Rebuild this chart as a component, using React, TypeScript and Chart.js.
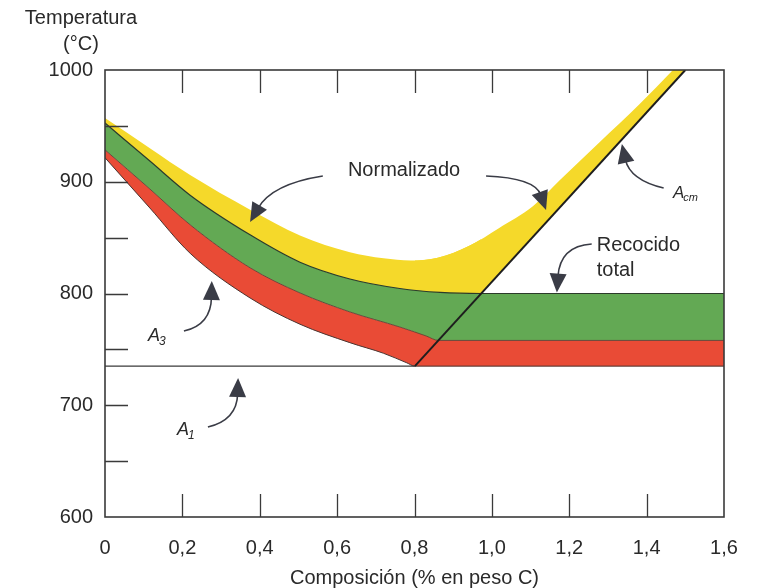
import React, { useEffect, useRef } from 'react';
import { Chart, registerables } from 'chart.js';

Chart.register(...registerables);

const FONT = '"Liberation Sans", Arial, Helvetica, sans-serif';
const TEXT = '#2a2a2a';
const INK = '#3a3c46';

// Composition (% C) and temperature (°C)
const yellowTopX = [0, 0.116, 0.22, 0.375, 0.504, 0.633, 0.72, 0.79, 0.86, 0.943, 1.018, 1.106, 1.176, 1.279, 1.382, 1.468, 1.55];
const yellowTopT = [957, 930, 906, 875, 852, 837, 831.5, 829.5, 832, 843, 858.5, 878, 901.5, 935.5, 969.5, 1000, 1031];

const greenTopX = [0, 0.116, 0.22, 0.375, 0.504, 0.633, 0.762, 0.866, 0.972, 1.6];
const greenTopT = [952.5, 918.5, 888, 852.5, 828, 813, 804.5, 801, 800, 800];

const redTopX = [0, 0.116, 0.22, 0.375, 0.504, 0.633, 0.762, 0.83, 0.862, 1.6];
const redTopT = [928.5, 893.5, 861.5, 823, 800.5, 783.5, 770, 762, 758, 758];

const a3X = [0, 0.116, 0.22, 0.375, 0.504, 0.633, 0.72, 0.78, 0.801, 1.6];
const a3T = [921.5, 876.5, 836, 796, 772.5, 756, 746.5, 738, 735, 735];

const a1X = [0, 0.801];
const a1T = [735, 735];

const acmX = [0.801, 1.5];
const acmT = [735, 1000];

const xTickStep = 0.2;
const yTickStep = 50;
const yLabelStep = 100;

const COLORS = {
  yellow: '#f5d92a',
  green: '#63a954',
  red: '#e94b36',
};

const pts = (xs: number[], ts: number[]) => xs.map((x, i) => ({ x, y: ts[i] }));

// annotation anchors, in data units (x: % C, y: °C)
const annotations = {
  normalizado: { x: 0.773, y: 910.5 },
  normArrowL: { s: [0.563, 905.1], c: [0.432, 898.0], t: [0.375, 864.0] },
  normArrowR: { s: [0.985, 905.1], c: [1.111, 903.4], t: [1.14, 874.7] },
  acmLabel: { x: 1.468, y: 889.9 },
  acmArrow: { s: [1.444, 894.4], c: [1.357, 901.6], t: [1.336, 933.8] },
  recocido: { x: 1.271, y1: 843.4, y2: 821.0 },
  recArrow: { s: [1.258, 844.3], c: [1.176, 842.5], t: [1.168, 800.8] },
  a3Label: { x: 0.111, y: 762.0 },
  a3Arrow: { s: [0.204, 766.4], c: [0.274, 771.8], t: [0.276, 811.2] },
  a1Label: { x: 0.186, y: 677.9 },
  a1Arrow: { s: [0.266, 680.5], c: [0.341, 686.8], t: [0.344, 724.4] },
};

const decor = {
  id: 'decor',
  afterDraw(chart: any) {
    const { ctx, chartArea: a } = chart;
    const xs = chart.scales.x;
    const ys = chart.scales.y;
    const X = (v: number) => xs.getPixelForValue(v);
    const Y = (v: number) => ys.getPixelForValue(v);
    const TICK = 23;
    ctx.save();

    // inward ticks
    ctx.strokeStyle = '#3a3a3a';
    ctx.lineWidth = 1.3;
    ctx.beginPath();
    ys.ticks.forEach((t: any) => {
      if (t.value > 600.5 && t.value < 999.5) {
        const py = Math.round(Y(t.value)) + 0.5;
        ctx.moveTo(a.left, py);
        ctx.lineTo(a.left + TICK, py);
      }
    });
    xs.ticks.forEach((t: any) => {
      if (t.value > 0.01 && t.value < 1.59) {
        const px = Math.round(X(t.value)) + 0.5;
        ctx.moveTo(px, a.bottom);
        ctx.lineTo(px, a.bottom - TICK);
        ctx.moveTo(px, a.top);
        ctx.lineTo(px, a.top + TICK);
      }
    });
    ctx.stroke();

    // frame
    ctx.lineWidth = 1.6;
    ctx.strokeRect(a.left, a.top, a.right - a.left, a.bottom - a.top);

    // axis heading
    ctx.fillStyle = TEXT;
    ctx.font = `20px ${FONT}`;
    ctx.textAlign = 'center';
    ctx.textBaseline = 'middle';
    ctx.fillText('Temperatura', 81, 18);
    ctx.fillText('(°C)', 81, 44);

    // arrows
    const arrow = (d: { s: number[]; c: number[]; t: number[] }) => {
      const s = [X(d.s[0]), Y(d.s[1])];
      const c = [X(d.c[0]), Y(d.c[1])];
      const t = [X(d.t[0]), Y(d.t[1])];
      const dx = t[0] - c[0];
      const dy = t[1] - c[1];
      const L = Math.hypot(dx, dy) || 1;
      const ux = dx / L;
      const uy = dy / L;
      const HL = 19;
      const HW = 8.5;
      const bx = t[0] - ux * HL;
      const by = t[1] - uy * HL;
      ctx.strokeStyle = INK;
      ctx.lineWidth = 1.6;
      ctx.beginPath();
      ctx.moveTo(s[0], s[1]);
      ctx.quadraticCurveTo(c[0], c[1], bx + ux * 3, by + uy * 3);
      ctx.stroke();
      ctx.fillStyle = INK;
      ctx.beginPath();
      ctx.moveTo(t[0], t[1]);
      ctx.lineTo(bx - uy * HW, by + ux * HW);
      ctx.lineTo(bx + uy * HW, by - ux * HW);
      ctx.closePath();
      ctx.fill();
    };
    arrow(annotations.normArrowL);
    arrow(annotations.normArrowR);
    arrow(annotations.acmArrow);
    arrow(annotations.recArrow);
    arrow(annotations.a3Arrow);
    arrow(annotations.a1Arrow);

    // texts
    ctx.fillStyle = TEXT;
    ctx.font = `20px ${FONT}`;
    ctx.textAlign = 'center';
    ctx.fillText('Normalizado', X(annotations.normalizado.x), Y(annotations.normalizado.y));
    ctx.textAlign = 'left';
    ctx.fillText('Recocido', X(annotations.recocido.x), Y(annotations.recocido.y1));
    ctx.fillText('total', X(annotations.recocido.x), Y(annotations.recocido.y2));

    const sub = (p: { x: number; y: number }, main: string, s: string, size: number) => {
      const px = X(p.x);
      const py = Y(p.y);
      ctx.textAlign = 'left';
      ctx.textBaseline = 'middle';
      ctx.font = `italic ${size}px ${FONT}`;
      ctx.fillText(main, px, py);
      const w = ctx.measureText(main).width;
      ctx.font = `italic ${Math.round(size * 0.66)}px ${FONT}`;
      ctx.fillText(s, px + w - 1, py + size * 0.3);
    };
    sub(annotations.acmLabel, 'A', 'cm', 17);
    sub(annotations.a3Label, 'A', '3', 18);
    sub(annotations.a1Label, 'A', '1', 18);

    ctx.restore();
  },
};

const stroke = (data: any[], color: string, width: number, curved: boolean) => ({
  data,
  borderColor: color,
  borderWidth: width,
  fill: false,
  pointRadius: 0,
  tension: 0,
  cubicInterpolationMode: curved ? 'monotone' : 'default',
});

const area = (data: any[], target: number | false, color: string) => ({
  data,
  borderColor: 'transparent',
  borderWidth: 0,
  backgroundColor: color,
  fill: target,
  pointRadius: 0,
  tension: 0,
  cubicInterpolationMode: 'monotone',
});

export default function App() {
  const ref = useRef<HTMLCanvasElement>(null);

  useEffect(() => {
    const yellowTop = pts(yellowTopX, yellowTopT);
    const greenTop = pts(greenTopX, greenTopT);
    const greenTopLeft = greenTop.slice(0, 9);
    const redTop = pts(redTopX, redTopT);
    const a3 = pts(a3X, a3T);
    const a1 = pts(a1X, a1T);
    const acm = pts(acmX, acmT);

    const datasets: any[] = [
      stroke(a1, '#3a3a3a', 1.4, false), // 0
      stroke(acm, '#1e1e1e', 2, false), // 1
      stroke(greenTop, '#2c3b2a', 1.2, true), // 2
      stroke(redTop, '#5e4236', 0.9, true), // 3
      stroke(a3, '#4a3430', 1, true), // 4
      area(redTop, 6, COLORS.red), // 5
      area(a3, false, 'transparent'), // 6
      area(greenTop, 5, COLORS.green), // 7
      area(greenTopLeft, 10, COLORS.yellow), // 8
      { ...area(acm, 10, COLORS.yellow), cubicInterpolationMode: 'default' }, // 9
      area(yellowTop, false, 'transparent'), // 10
    ];

    const tickFont = { family: FONT, size: 20 };
    const chart = new Chart(ref.current as HTMLCanvasElement, {
      type: 'line',
      data: { datasets },
      options: {
        animation: false,
        responsive: false,
        devicePixelRatio: 1,
        events: [],
        layout: { padding: { top: 70, right: 34, left: 0, bottom: 0 } },
        plugins: {
          legend: { display: false },
          tooltip: { enabled: false },
          title: { display: false },
        },
        scales: {
          x: {
            type: 'linear',
            min: 0,
            max: 1.6,
            grid: { display: false, drawTicks: false },
            border: { display: false },
            ticks: {
              stepSize: xTickStep,
              font: tickFont,
              color: TEXT,
              padding: 19,
              maxRotation: 0,
              autoSkip: false,
              callback: (v: any) => (Number(v) === 0 ? '0' : Number(v).toFixed(1).replace('.', ',')),
            },
            title: {
              display: true,
              text: 'Composición (% en peso C)',
              color: TEXT,
              font: { family: FONT, size: 20, lineHeight: 1 },
              padding: 0,
            },
            afterFit: (s: any) => {
              s.height = 71;
            },
          },
          y: {
            type: 'linear',
            min: 600,
            max: 1000,
            grid: { display: false, drawTicks: false },
            border: { display: false },
            ticks: {
              stepSize: yTickStep,
              font: tickFont,
              color: TEXT,
              padding: 12,
              autoSkip: false,
              callback: (v: any) => (Number(v) % yLabelStep === 0 ? String(v) : ''),
            },
            afterFit: (s: any) => {
              s.width = 105;
            },
          },
        },
      } as any,
      plugins: [decor],
    });
    return () => chart.destroy();
  }, []);

  return (
    <div style={{ position: 'fixed', left: 0, top: 0, width: 758, height: 588, background: '#fff' }}>
      <canvas ref={ref} width={758} height={588} style={{ display: 'block', width: 758, height: 588 }} />
    </div>
  );
}
